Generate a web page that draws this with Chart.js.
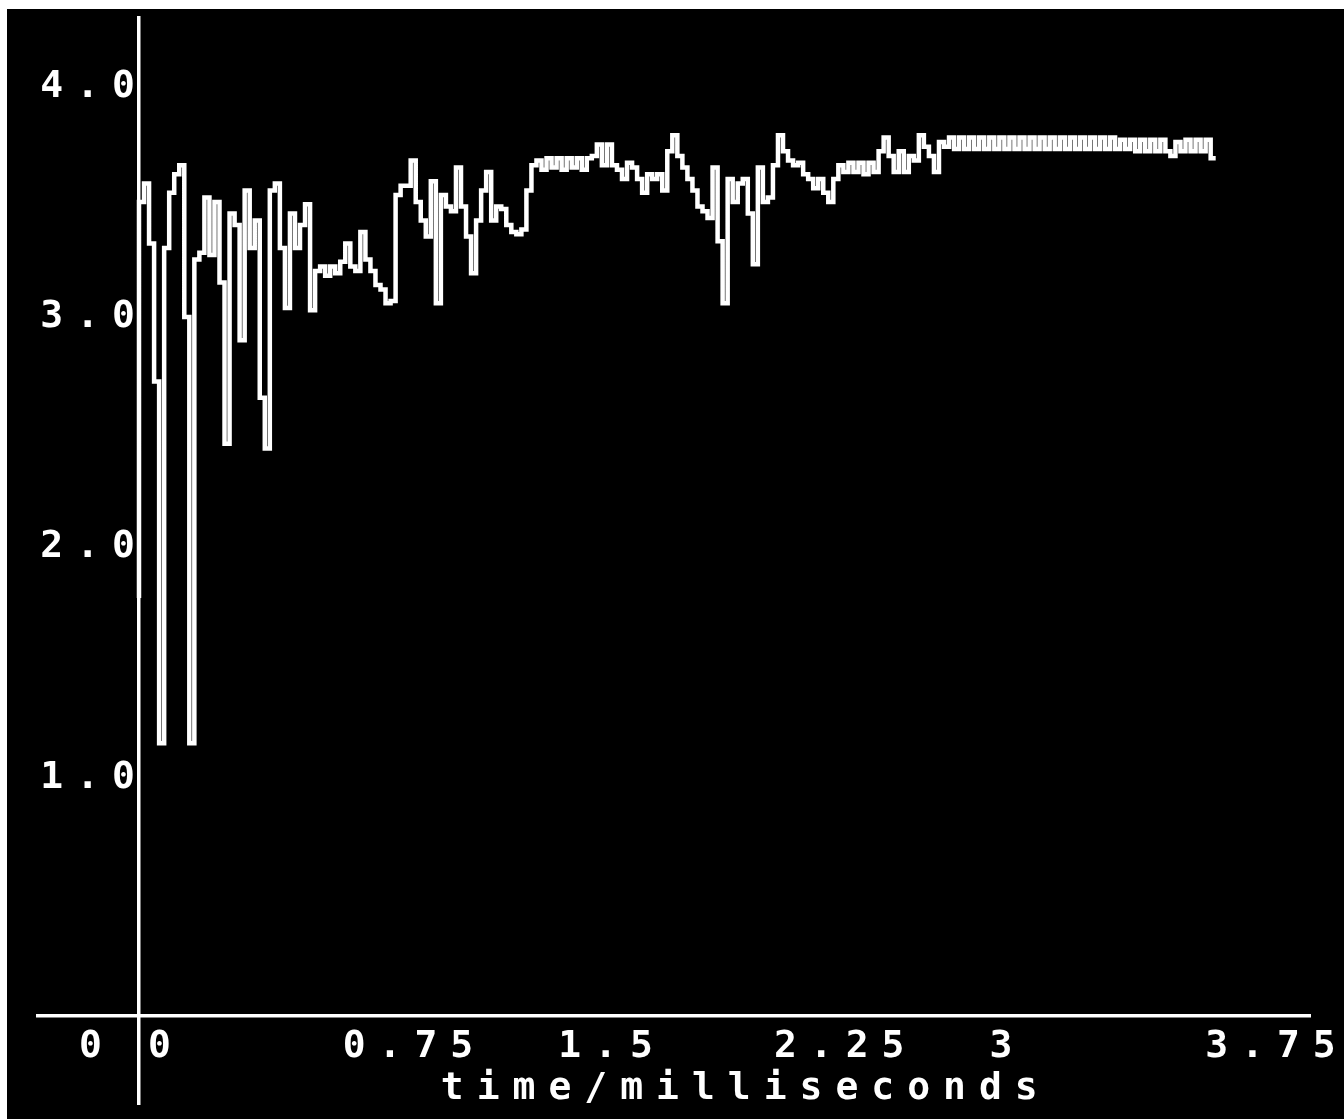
<!DOCTYPE html>
<html>
<head>
<meta charset="utf-8">
<title>time/milliseconds</title>
<script src="https://cdn.jsdelivr.net/npm/chart.js@4.4.1/dist/chart.umd.min.js"></script>
<style>
  html, body { margin: 0; padding: 0; background: #fff; }
  #screen { position: absolute; left: 7px; top: 9px; width: 1337px; height: 1110px; background: #000; }
  #plot { position: absolute; left: 0; top: 0; }
</style>
</head>
<body>
<div id="screen"></div>
<canvas id="plot" width="1344" height="1119"></canvas>
<script>
// Sampled trace: one value every samplePeriod milliseconds, starting at t = 0
const samplePeriod = 0.0175;
const signal = [
  1.78, 3.50, 3.58, 3.32, 2.72, 1.15, 3.30, 3.54, 3.62, 3.66,
  3.00, 1.15, 3.25, 3.28, 3.52, 3.27, 3.50, 3.15, 2.45, 3.45,
  3.40, 2.90, 3.55, 3.30, 3.42, 2.65, 2.43, 3.55, 3.58, 3.30,
  3.04, 3.45, 3.30, 3.40, 3.49, 3.03, 3.20, 3.22, 3.18, 3.22,
  3.19, 3.24, 3.32, 3.22, 3.20, 3.37, 3.25, 3.20, 3.14, 3.12,
  3.06, 3.07, 3.53, 3.57, 3.57, 3.68, 3.50, 3.42, 3.35, 3.59,
  3.06, 3.53, 3.48, 3.46, 3.65, 3.48, 3.35, 3.19, 3.42, 3.55,
  3.63, 3.42, 3.48, 3.47, 3.40, 3.37, 3.36, 3.38, 3.55, 3.66,
  3.68, 3.64, 3.69, 3.65, 3.69, 3.64, 3.69, 3.65, 3.69, 3.64,
  3.69, 3.70, 3.75, 3.66, 3.75, 3.66, 3.64, 3.60, 3.67, 3.65,
  3.60, 3.54, 3.62, 3.60, 3.62, 3.55, 3.72, 3.79, 3.70, 3.65,
  3.60, 3.55, 3.48, 3.46, 3.43, 3.65, 3.33, 3.06, 3.60, 3.50,
  3.58, 3.60, 3.45, 3.23, 3.65, 3.50, 3.52, 3.66, 3.79, 3.72,
  3.68, 3.66, 3.67, 3.62, 3.60, 3.56, 3.60, 3.54, 3.50, 3.60,
  3.66, 3.63, 3.67, 3.63, 3.67, 3.62, 3.67, 3.63, 3.72, 3.78,
  3.70, 3.63, 3.72, 3.63, 3.70, 3.68, 3.79, 3.74, 3.70, 3.63,
  3.76, 3.74, 3.78, 3.73, 3.78, 3.73, 3.78, 3.73, 3.78, 3.73,
  3.78, 3.73, 3.78, 3.73, 3.78, 3.73, 3.78, 3.73, 3.78, 3.73,
  3.78, 3.73, 3.78, 3.73, 3.78, 3.73, 3.78, 3.73, 3.78, 3.73,
  3.78, 3.73, 3.78, 3.73, 3.78, 3.73, 3.77, 3.73, 3.77, 3.72,
  3.77, 3.72, 3.77, 3.72, 3.77, 3.72, 3.70, 3.76, 3.72, 3.77,
  3.72, 3.77, 3.72, 3.77, 3.69
];

// Axis labelling
const xTickValues = [0.75, 1.5, 2.25, 3, 3.75];
const xTickLabels = ['0.75', '1.5', '2.25', '3', '3.75'];
const originTickValues = [0];
const originLabel = '0';
const yTickValues = [1, 2, 3, 4];
const yTickLabels = ['1.0', '2.0', '3.0', '4.0'];
const xTitle = 'time/milliseconds';

// Visible ranges
const xMin = -0.3513, xMax = 4.073;
const yMin = -0.035, yMax = 4.299;

// Where the label columns sit (in x units) relative to the vertical axis
const yLabelColumn = 0.031;
const originLabelColumn = -0.0835;

const points = signal.map((v, i) => ({ x: i * samplePeriod, y: v }));

const white = '#ffffff';
const tickFont = { family: "'DejaVu Sans Mono', monospace", size: 38, weight: 'bold' };
const titleFont = { family: "'DejaVu Sans Mono', monospace", size: 38, weight: 'bold' };

// Wide character cells, like a terminal's fixed text grid
const wideText = {
  id: 'wideText',
  beforeLayout(chart) { chart.ctx.letterSpacing = '13px'; },
  beforeDraw(chart) { chart.ctx.letterSpacing = '13px'; }
};

// Axes take no extra room: the plot area is fixed by the layout padding
const noPadding = s => {
  s.paddingLeft = 0; s.paddingRight = 0; s.paddingTop = 0; s.paddingBottom = 0;
};

new Chart(document.getElementById('plot'), {
  type: 'line',
  data: {
    datasets: [{
      data: points,
      borderColor: white,
      borderWidth: 4.5,
      stepped: 'after',
      pointRadius: 0,
      fill: false,
      tension: 0,
      xAxisID: 'x',
      yAxisID: 'y'
    }]
  },
  options: {
    responsive: false,
    animation: false,
    devicePixelRatio: 1,
    events: [],
    layout: { padding: { left: 38, right: 34, top: 18, bottom: 0 } },
    plugins: { legend: { display: false }, tooltip: { enabled: false } },
    scales: {
      x: {
        type: 'linear', axis: 'x', position: 'bottom',
        min: xMin, max: xMax,
        afterBuildTicks: s => { s.ticks = xTickValues.map(v => ({ value: v })); },
        afterFit: s => { s.height = 103; noPadding(s); },
        grid: { display: false, drawTicks: false },
        border: { display: true, color: white, width: 3.5 },
        ticks: {
          color: white, font: tickFont, align: 'start', labelOffset: -12, padding: 8,
          autoSkip: false, maxRotation: 0, minRotation: 0,
          callback: (v, i) => xTickLabels[i]
        },
        title: {
          display: true, text: xTitle.padStart(xTitle.length + 4, ' '),
          color: white, font: titleFont, padding: { top: 0, bottom: 7 }
        }
      },
      xOrigin: {
        type: 'linear', axis: 'x', position: { y: yMin },
        min: xMin, max: xMax,
        afterBuildTicks: s => { s.ticks = originTickValues.map(v => ({ value: v })); },
        afterFit: s => { s.height = 0; noPadding(s); },
        grid: { display: true, drawOnChartArea: false, drawTicks: true, tickLength: 89, color: white, lineWidth: 3.5 },
        border: { display: false },
        ticks: {
          color: white, font: tickFont, align: 'start', labelOffset: 9, padding: -81,
          autoSkip: false, maxRotation: 0, minRotation: 0,
          callback: () => originLabel
        }
      },
      y: {
        type: 'linear', axis: 'y', position: { x: 0 },
        min: yMin, max: yMax,
        afterBuildTicks: s => { s.ticks = yTickValues.map(v => ({ value: v })); },
        afterFit: s => { s.width = 0; noPadding(s); },
        grid: { display: false, drawTicks: false },
        border: { display: true, color: white, width: 3.5 },
        ticks: { display: false }
      },
      yLabels: {
        type: 'linear', axis: 'y', position: { x: yLabelColumn },
        min: yMin, max: yMax,
        afterBuildTicks: s => { s.ticks = yTickValues.map(v => ({ value: v })); },
        afterFit: s => { s.width = 0; noPadding(s); },
        grid: { display: false, drawTicks: false },
        border: { display: false },
        ticks: {
          color: white, font: tickFont, padding: 0, autoSkip: false,
          callback: (v, i) => yTickLabels[i]
        }
      },
      yOrigin: {
        type: 'linear', axis: 'y', position: { x: originLabelColumn },
        min: yMin, max: yMax,
        afterBuildTicks: s => { s.ticks = originTickValues.map(v => ({ value: v })); },
        afterFit: s => { s.width = 0; noPadding(s); },
        grid: { display: false, drawTicks: false },
        border: { display: false },
        ticks: {
          color: white, font: tickFont, padding: 0, labelOffset: 39, autoSkip: false,
          callback: () => originLabel
        }
      }
    }
  },
  plugins: [wideText]
});
</script>
</body>
</html>
